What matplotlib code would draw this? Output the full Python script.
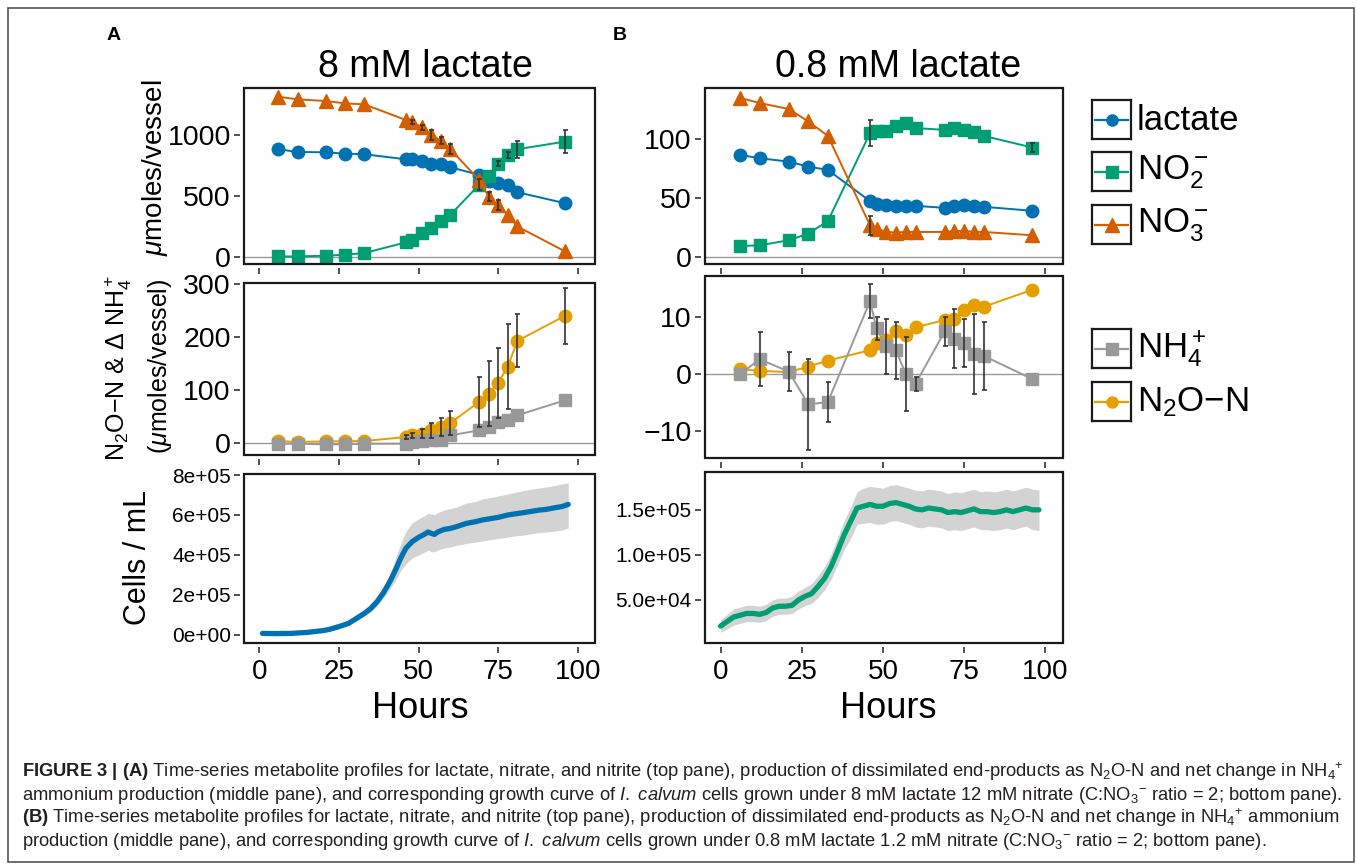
import matplotlib
matplotlib.use('Agg')
import matplotlib.pyplot as plt
from matplotlib.patches import Rectangle

plt.rcParams['font.family'] = ['Liberation Sans', 'DejaVu Sans']
plt.rcParams['mathtext.fontset'] = 'custom'
plt.rcParams['mathtext.rm'] = 'Liberation Sans'
plt.rcParams['mathtext.it'] = 'Liberation Sans:italic'
plt.rcParams['mathtext.bf'] = 'Liberation Sans:bold'
plt.rcParams['mathtext.sf'] = 'Liberation Sans'

# ---------------- data ----------------
hours = [6, 12, 21, 27, 33, 46, 48, 51, 54, 57, 60, 69, 72, 75, 78, 81, 96]

# Panel A (8 mM lactate), top
lactate_A = [883, 861, 858, 847, 842, 801, 801, 790, 763, 763, 736, 673, 619, 610, 591, 531, 441]
no2_A = [5, 5, 11, 19, 33, 120, 142, 196, 237, 292, 346, 591, 665, 763, 837, 883, 946]
no2_A_err = [0, 0, 0, 0, 0, 0, 0, 0, 0, 0, 0, 45, 0, 20, 25, 70, 95]
no3_A = [1313, 1292, 1278, 1259, 1251, 1123, 1109, 1063, 1000, 954, 883, 632, 496, 428, 346, 251, 46]
no3_A_err = [0, 0, 0, 0, 0, 0, 15, 20, 40, 27, 40, 0, 34, 40, 0, 0, 0]
# Panel A middle
n2o_A = [3.8, 1.9, 3.2, 3.2, 3.8, 11.3, 14.5, 17.6, 23.9, 30.2, 37.8, 77.5, 93.3, 114.1, 143.7, 192.8, 240.1]
n2o_A_err = [0, 0, 0, 0, 0, 3, 5, 8, 14, 17, 22, 47, 62, 66, 80, 50, 53]
nh4_A = [-1.3, -1.3, -2.5, -2.5, -1.3, -1.3, 1.9, 3.8, 5.0, 6.3, 14.5, 23.9, 30.2, 39.7, 42.8, 52.3, 80.7]

# Panel B (0.8 mM lactate), top
lactate_B = [86.4, 83.6, 80.7, 76.5, 73.7, 47.3, 44.5, 43.9, 43.3, 43.3, 43.3, 41.6, 43.1, 43.9, 43.1, 42.5, 39.1]
no2_B = [9.3, 9.9, 14.2, 19.8, 30.3, 104.8, 106.2, 106.8, 110.5, 113.3, 109.1, 107.6, 109.1, 107.6, 105.4, 102.5, 92.6]
no2_B_err = [0, 0, 0, 0, 0, 11, 0, 0, 0, 0, 0, 0, 0, 0, 0, 0, 4]
no3_B = [134.6, 130.3, 125.2, 114.7, 102.5, 26.9, 24.1, 21.2, 20.7, 21.2, 21.2, 21.2, 22.1, 22.1, 21.2, 21.2, 18.4]
no3_B_err = [0, 0, 0, 0, 0, 8, 0, 0, 0, 0, 0, 0, 0, 0, 0, 0, 0]
# Panel B middle
n2o_B = [0.87, 0.58, 0.35, 1.33, 2.37, 4.2, 5.5, 6.0, 7.5, 6.8, 8.2, 9.5, 9.7, 11.3, 12.1, 11.8, 14.8]
nh4_B = [0.0, 2.6, 0.46, -5.3, -4.9, 12.8, 8.0, 4.9, 4.2, 0.0, -1.7, 7.5, 6.2, 5.4, 3.5, 3.2, -0.87]
nh4_B_err = [0, 4.7, 3.5, 8.0, 3.5, 3.0, 2.0, 4.8, 5.0, 6.5, 1.2, 2.5, 5.2, 4.2, 7.0, 6.0, 0]

# Growth curves (cells/mL, thousands)
hours_gA = [1, 5, 10, 15, 20, 22, 25, 28, 30, 33, 35, 37, 39, 41, 43, 44, 45, 46, 47, 48, 50, 52, 53,
            54, 55, 56, 58, 60, 62, 65, 68, 70, 73, 75, 78, 80, 83, 85, 88, 90, 93, 95, 97]
cells_A = [8, 7, 8, 13, 22, 28, 42, 58, 78, 108, 133, 167, 212, 267, 333, 370, 403, 433, 450, 467, 488, 505, 515,
           508, 503, 515, 528, 533, 542, 558, 567, 575, 583, 588, 600, 605, 612, 617, 625, 628, 637, 642, 653]
upper_A = [14, 13, 14, 19, 28, 35, 50, 67, 92, 122, 152, 188, 240, 305, 393, 440, 480, 515, 540, 560, 580, 598, 608,
           605, 602, 612, 625, 632, 640, 660, 668, 680, 688, 695, 705, 712, 722, 728, 735, 740, 748, 755, 762]
lower_A = [3, 1, 3, 8, 15, 22, 34, 50, 65, 95, 115, 145, 185, 230, 280, 310, 335, 355, 370, 385, 400, 415, 425,
           418, 415, 425, 435, 440, 448, 458, 465, 470, 478, 482, 490, 495, 500, 505, 512, 515, 520, 525, 535]

hours_gB = [0, 2, 4, 6, 8, 10, 12, 14, 16, 18, 20, 22, 24, 26, 28, 30, 32, 34, 36, 38, 40, 42, 44, 46, 48,
            50, 52, 54, 56, 58, 60, 62, 64, 66, 68, 70, 72, 74, 76, 78, 80, 82, 84, 86, 88, 90, 92, 94, 96, 98]
cells_B = [21, 26, 31, 33, 35, 35, 34, 36, 41, 43, 43, 44, 50, 54, 57, 65, 74, 87, 104, 122, 137, 152, 154, 156, 154,
           154, 157, 158, 156, 154, 151, 150, 152, 151, 150, 147, 148, 147, 149, 151, 148, 148, 147, 148, 150, 148, 150, 152, 150, 150]
upper_B = [28, 34, 40, 42, 44, 44, 43, 45, 50, 52, 52, 54, 60, 64, 68, 77, 87, 101, 119, 138, 153, 170, 174, 176, 175,
           174, 177, 178, 176, 174, 172, 171, 173, 172, 171, 168, 170, 169, 171, 173, 170, 171, 170, 171, 173, 171, 173, 175, 173, 172]
lower_B = [14, 18, 22, 24, 26, 26, 25, 27, 32, 34, 34, 35, 40, 44, 46, 53, 61, 73, 89, 106, 118, 134, 135, 136, 134,
           134, 137, 138, 136, 134, 131, 130, 132, 131, 130, 127, 128, 127, 129, 131, 128, 128, 127, 128, 130, 128, 130, 132, 128, 127]

x_ticks = [0, 25, 50, 75, 100]
yticks_A_top = [0, 500, 1000]
yticks_B_top = [0, 50, 100]
yticks_A_mid = [0, 100, 200, 300]
yticks_B_mid = [-10, 0, 10]
yticks_A_bot = [0, 200000, 400000, 600000, 800000]
ylabels_A_bot = ['0e+00', '2e+05', '4e+05', '6e+05', '8e+05']
yticks_B_bot = [50000, 100000, 150000]
ylabels_B_bot = ['5.0e+04', '1.0e+05', '1.5e+05']

C_LAC = '#0072B2'
C_NO2 = '#009E73'
C_NO3 = '#D55E00'
C_N2O = '#E69F00'
C_NH4 = '#999999'
C_ERR = '#333333'

# ---------------- figure ----------------
W, H = 1357, 866
fig = plt.figure(figsize=(W / 100, H / 100), dpi=100)


def add_ax(l, t, r, b):
    return fig.add_axes([l / W, 1 - b / H, (r - l) / W, (b - t) / H])


def style(ax, ylim, yticks, ylabels=None, ysize=20.5, xlabels=False):
    for s in ax.spines.values():
        s.set_visible(False)
    ax.spines['left'].set_position(('outward', 3))
    ax.spines['bottom'].set_position(('outward', 3))
    ax.add_patch(Rectangle((0, 0), 1, 1, transform=ax.transAxes, fill=False,
                           lw=1.6, ec='#1a1a1a', clip_on=False, zorder=20))
    ax.tick_params(direction='out', length=4.5, width=1.2, color='#333333', pad=2)
    ax.set_xlim(-4.8, 105.4)
    ax.set_xticks(x_ticks)
    ax.set_ylim(*ylim)
    ax.set_yticks(yticks)
    if ylabels is not None:
        ax.set_yticklabels(ylabels)
    ax.tick_params(axis='y', labelsize=ysize)
    if xlabels:
        ax.tick_params(axis='x', labelsize=20, pad=4)
    else:
        ax.set_xticklabels([])


def series(ax, y, color, marker, ms, err=None):
    ax.plot(hours, y, color=color, lw=1.4, marker=marker, ms=ms, mec=color, mfc=color, zorder=3)
    if err is not None:
        sel = [i for i, e in enumerate(err) if e > 0]
        ax.errorbar([hours[i] for i in sel], [y[i] for i in sel], yerr=[err[i] for i in sel],
                    fmt='none', ecolor=C_ERR, elinewidth=1.2, capsize=1.8, capthick=1.2, zorder=4)


def zero_line(ax):
    ax.axhline(0, color='#999999', lw=1.0, zorder=1)


# Panel A
axA1 = add_ax(244, 88, 595, 264)
zero_line(axA1)
series(axA1, lactate_A, C_LAC, 'o', 9)
series(axA1, no2_A, C_NO2, 's', 8.5, no2_A_err)
series(axA1, no3_A, C_NO3, '^', 10, no3_A_err)
style(axA1, (-57, 1385), yticks_A_top)

axA2 = add_ax(244, 283, 595, 455)
zero_line(axA2)
series(axA2, n2o_A, C_N2O, 'o', 9, n2o_A_err)
series(axA2, nh4_A, C_NH4, 's', 8.5)
style(axA2, (-22.6, 302), yticks_A_mid)

axA3 = add_ax(244, 474, 595, 643)
axA3.fill_between(hours_gA, [v * 1000 for v in lower_A], [v * 1000 for v in upper_A],
                  color='#d3d3d3', lw=0, zorder=1)
axA3.plot(hours_gA, [v * 1000 for v in cells_A], color=C_LAC, lw=3.8,
          solid_joinstyle='round', solid_capstyle='round', zorder=2)
style(axA3, (-40000, 805000), yticks_A_bot, ylabels_A_bot, ysize=15, xlabels=True)

# Panel B
axB1 = add_ax(705, 88, 1063, 264)
zero_line(axB1)
series(axB1, lactate_B, C_LAC, 'o', 9)
series(axB1, no2_B, C_NO2, 's', 8.5, no2_B_err)
series(axB1, no3_B, C_NO3, '^', 10, no3_B_err)
style(axB1, (-5.9, 143), yticks_B_top)

axB2 = add_ax(705, 276, 1063, 458)
zero_line(axB2)
series(axB2, n2o_B, C_N2O, 'o', 9)
series(axB2, nh4_B, C_NH4, 's', 8.5, nh4_B_err)
style(axB2, (-14.7, 17.2), yticks_B_mid)

axB3 = add_ax(705, 472, 1063, 643)
axB3.fill_between(hours_gB, [v * 1000 for v in lower_B], [v * 1000 for v in upper_B],
                  color='#d3d3d3', lw=0, zorder=1)
axB3.plot(hours_gB, [v * 1000 for v in cells_B], color=C_NO2, lw=3.8,
          solid_joinstyle='round', solid_capstyle='round', zorder=2)
style(axB3, (2200, 192000), yticks_B_bot, ylabels_B_bot, ysize=15, xlabels=True)


def ftext(x, y, s, **kw):
    fig.text(x / W, 1 - y / H, s, **kw)


# titles & labels
ftext(425, 67, '8 mM lactate', ha='center', va='center', fontsize=27)
ftext(898, 67, '0.8 mM lactate', ha='center', va='center', fontsize=27)
ftext(107, 36, 'A', ha='left', va='center', fontsize=14, fontweight='bold')
ftext(613, 36, 'B', ha='left', va='center', fontsize=14, fontweight='bold')
ftext(155, 168, r'$\mathit{\mu}$moles/vessel', ha='center', va='center', rotation=90, fontsize=20)
ftext(118, 368, 'N$_2$O\u2212N & \u0394 NH$_4^+$', ha='center', va='center', rotation=90, fontsize=18)
ftext(160, 366, r'($\mathit{\mu}$moles/vessel)', ha='center', va='center', rotation=90, fontsize=18)
ftext(138, 557, 'Cells / mL', ha='center', va='center', rotation=90, fontsize=22)
ftext(420, 708, 'Hours', ha='center', va='center', fontsize=26)
ftext(888, 708, 'Hours', ha='center', va='center', fontsize=26)

# legend keys
legend_items = [
    (100, C_LAC, 'o', 8, 'lactate'),
    (152, C_NO2, 's', 8, 'NO$_2^-$'),
    (205, C_NO3, '^', 10, 'NO$_3^-$'),
    (329, C_NH4, 's', 8, 'NH$_4^+$'),
    (382, C_N2O, 'o', 8, 'N$_2$O\u2212N'),
]
for top, col, mk, msz, lab in legend_items:
    kax = add_ax(1092, top, 1131, top + 39)
    kax.set_xlim(0, 1)
    kax.set_ylim(0, 1)
    kax.set_xticks([])
    kax.set_yticks([])
    for s in kax.spines.values():
        s.set_linewidth(1.6)
        s.set_color('#1a1a1a')
    kax.plot([0.08, 0.92], [0.5, 0.5], color=col, lw=1.6)
    kax.plot([0.5], [0.5], marker=mk, ms=msz, color=col, mec=col)
    ftext(1137, top + 20, lab, ha='left', va='center', fontsize=25)

# figure frame
fig.add_artist(Rectangle((8 / W, 1 - 862 / H), (1354 - 8) / W, (862 - 8) / H,
                         transform=fig.transFigure, fill=False, ec='#555555', lw=1.2))

# caption
cap_lines = [
    r"$\mathbf{FIGURE\ 3\ |\ (A)}$ Time-series metabolite profiles for lactate, nitrate, and nitrite (top pane), production of dissimilated end-products as N$_2$O-N and net change in NH$_4{}^{+}$",
    r"ammonium production (middle pane), and corresponding growth curve of $\mathit{I.}$ $\mathit{calvum}$ cells grown under 8 mM lactate 12 mM nitrate (C:NO$_3{}^{-}$ ratio = 2; bottom pane).",
    r"$\mathbf{(B)}$ Time-series metabolite profiles for lactate, nitrate, and nitrite (top pane), production of dissimilated end-products as N$_2$O-N and net change in NH$_4{}^{+}$ ammonium",
    r"production (middle pane), and corresponding growth curve of $\mathit{I.}$ $\mathit{calvum}$ cells grown under 0.8 mM lactate 1.2 mM nitrate (C:NO$_3{}^{-}$ ratio = 2; bottom pane).",
]
cap_y = [772, 795, 818, 841]
for s, y in zip(cap_lines, cap_y):
    ftext(22, y, s, ha='left', va='center', fontsize=13.2, color='#231f20')

fig.savefig('out.png', dpi=100)
